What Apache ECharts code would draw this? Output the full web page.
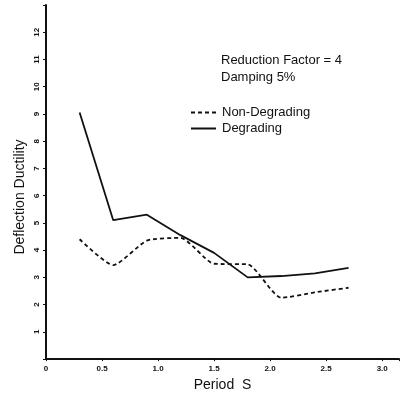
<!DOCTYPE html>
<html>
<head>
<meta charset="utf-8">
<script src="https://cdn.jsdelivr.net/npm/echarts@6/dist/echarts.min.js"></script>
<style>
  html, body { margin: 0; padding: 0; background: #fff; }
  #chart { width: 402px; height: 397px; }
</style>
</head>
<body>
<div id="chart"></div>
<script>
// periods (s)
const periods = [0.3, 0.6, 0.9, 1.2, 1.5, 1.8, 2.1, 2.4, 2.7]
// deflection ductility
const nonDegrading = [4.4, 3.45, 4.35, 4.45, 3.5, 3.48, 2.25, 2.45, 2.62]
const degrading = [9.05, 5.1, 5.3, 4.55, 3.9, 3.0, 3.05, 3.15, 3.35]
const xTickLabels = ['0', '0.5', '1.0', '1.5', '2.0', '2.5', '3.0']

const chart = echarts.init(document.getElementById('chart'))

const pair = (ys) => periods.map((p, i) => [p, ys[i]])

const option = {
  animation: false,
  grid: { left: 46, right: 2, top: 5, bottom: 32 },
  xAxis: {
    type: 'value',
    min: 0,
    max: 3.15,
    interval: 0.5,
    name: 'Period  S',
    nameLocation: 'middle',
    nameGap: 17,
    nameTextStyle: { fontSize: 14, color: '#111', fontFamily: 'Liberation Sans' },
    axisLine: { lineStyle: { color: '#111', width: 2 } },
    axisTick: { show: true, length: 2, lineStyle: { color: '#111' } },
    splitLine: { show: false },
    axisLabel: {
      fontSize: 8,
      fontWeight: 'bold',
      color: '#111',
      margin: 6,
      formatter: (v) => {
        const k = Math.round(v / 0.5)
        return Math.abs(v - k * 0.5) < 1e-6 ? xTickLabels[k] : ''
      }
    }
  },
  yAxis: {
    type: 'value',
    min: 0,
    max: 13,
    interval: 1,
    axisLine: { show: true, lineStyle: { color: '#111', width: 2 } },
    axisTick: { show: true, length: 3, lineStyle: { color: '#111' } },
    splitLine: { show: false },
    axisLabel: {
      rotate: 90,
      fontSize: 8,
      fontWeight: 'bold',
      color: '#111',
      margin: 5,
      formatter: (v) => (v === 0 || v === 13 ? '' : String(v))
    }
  },
  legend: {
    left: 185,
    top: 101,
    orient: 'vertical',
    itemWidth: 25,
    itemHeight: 10,
    itemGap: 3,
    itemStyle: { opacity: 0 },
    textStyle: { fontSize: 13, color: '#111', fontFamily: 'Liberation Sans', padding: [0, 0, 0, 1] },
    data: ['Non-Degrading', 'Degrading']
  },
  graphic: [
    {
      type: 'text',
      left: 221,
      top: 52,
      style: {
        text: 'Reduction Factor = 4\nDamping 5%',
        font: '13px "Liberation Sans"',
        fill: '#111',
        lineHeight: 17
      }
    },
    {
      type: 'text',
      x: 20,
      y: 197,
      rotation: Math.PI / 2,
      style: {
        text: 'Deflection Ductility',
        font: '14px "Liberation Sans"',
        fill: '#111',
        align: 'center',
        verticalAlign: 'middle'
      }
    }
  ],
  series: [
    {
      name: 'Non-Degrading',
      type: 'line',
      data: pair(nonDegrading),
      symbol: 'none',
      smooth: 0.2,
      lineStyle: { color: '#111', width: 1.8, type: [4, 3] },
      itemStyle: { color: '#111' }
    },
    {
      name: 'Degrading',
      type: 'line',
      data: pair(degrading),
      symbol: 'none',
      lineStyle: { color: '#111', width: 1.8 },
      itemStyle: { color: '#111' }
    }
  ]
}

chart.setOption(option)
</script>
</body>
</html>
